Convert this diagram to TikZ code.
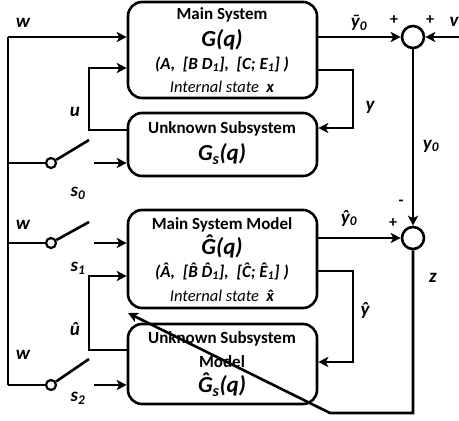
\documentclass[tikz,border=0pt]{standalone}
\usepackage{fontspec}
\setmainfont{Carlito}
\usepackage{tikz}
\usetikzlibrary{arrows.meta,calc,positioning}
\definecolor{cizgi}{HTML}{000000}
\newcommand{\sapka}[2][0.17em]{\ooalign{#2\cr\hidewidth\raisebox{#1}{\char"02C6}\hidewidth\cr}}

\tikzset{
  blok/.style={draw=cizgi,line width=2.6pt,rounded corners=14pt,fill=white},
  toplam/.style={circle,draw=cizgi,line width=2.6pt,minimum size=22pt,inner sep=0pt,fill=white},
  anahtar/.style={circle,draw=cizgi,line width=2.2pt,minimum size=10pt,inner sep=0pt,fill=white},
  tel/.style={line width=2.6pt,cizgi},
  ok/.style={tel,-{Stealth[length=10pt,width=10pt,inset=2.5pt]}},
  baslik/.style={font=\fontsize{17}{17}\selectfont\bfseries},
  tf/.style={font=\fontsize{23}{23}\selectfont\bfseries\itshape},
  param/.style={font=\fontsize{17}{17}\selectfont\bfseries\itshape},
  durum/.style={font=\fontsize{16.5}{16.5}\selectfont\itshape},
  etiket/.style={font=\fontsize{19}{19}\selectfont\bfseries\itshape},
  isaret/.style={font=\fontsize{16}{16}\selectfont\bfseries}
}

\begin{document}
\begin{tikzpicture}[x=1pt,y=-1pt]
\useasboundingbox (0,0) rectangle (459,421);
% blocks
\node[blok,minimum width=189pt,minimum height=96pt] (anaSis) at (222.5,50) {};
\node[blok,minimum width=189pt,minimum height=63pt] (altSis) at (222.5,144.5) {};
\node[blok,minimum width=189pt,minimum height=98pt] (anaMod) at (222.5,259) {};
\node[blok,minimum width=189pt,minimum height=80pt] (altMod) at (222.5,364) {};
% block texts
\node[baslik] (t1) at (222,15) {Main System};
\node[tf] (t2) at (222,40) {G(q)};
\node[param] (t3) at (222,64) {(A,\ \ [B D\textsubscript{1}],\ \ [C; E\textsubscript{1}] )};
\node[durum] (t4) at (222,87) {Internal state\ \ \textbf{x}};
\node[baslik] (t5) at (222,129) {Unknown Subsystem};
\node[tf] (t6) at (222,154) {G\textsubscript{s}(q)};
\node[baslik] (t7) at (222,225) {Main System Model};
\node[tf] (t8) at (222,248) {\sapka{G}(q)};
\node[param] (t9) at (222,272) {(\sapka{A},\ \ [\sapka{B} \sapka{D}\textsubscript{1}],\ \ [\sapka{C}; \sapka{E}\textsubscript{1}] )};
\node[durum] (t10) at (222,296) {Internal state\ \ \textbf{\sapka[0pt]{x}}};
\node[baslik] (t11) at (222,339) {Unknown Subsystem};
\node[baslik] (t12) at (222,362) {Model};
\node[tf] (t13) at (222,386) {\sapka{G}\textsubscript{s}(q)};
% summing junctions and switches
\node[toplam] (topA) at (413,37) {};
\node[toplam] (topB) at (413,238) {};
\node[anahtar] (anA) at (51,163) {};
\node[anahtar] (anB) at (51,243) {};
\node[anahtar] (anC) at (51,385) {};
\coordinate (busUst) at (8,37);
\coordinate (busAlt) at (8,385);
\coordinate (kolA) at (89,140);
\coordinate (kolB) at (89,222);
\coordinate (kolC) at (89,359);
\coordinate (girA) at (94,163);
\coordinate (girB) at (94,243);
\coordinate (girC) at (94,385);
\coordinate (uAlt) at (89,130);
\coordinate (uUst) at (89,68);
\coordinate (uhAlt) at (89,350);
\coordinate (uhUst) at (89,276);
\coordinate (yUst) at (353,70);
\coordinate (yAlt) at (353,128);
\coordinate (yhUst) at (353,271);
\coordinate (yhAlt) at (353,362);
\coordinate (vGir) at (459,37);
\coordinate (zKose) at (413,413);
\coordinate (zKirik) at (330,413);
\coordinate (zUc) at (128,313);
% connectors
\draw[tel] (busAlt) -- (busUst);
\draw[ok] (busUst) -- (busUst -| anaSis.west);
\draw[tel] (anA -| busUst) -- (anA);
\draw[tel] (anB -| busUst) -- (anB);
\draw[tel] (anC -| busUst) -- (anC);
\draw[tel] (anA) -- (kolA);
\draw[tel] (anB) -- (kolB);
\draw[tel] (anC) -- (kolC);
\draw[ok] (girA) -- (girA -| altSis.west);
\draw[ok] (girB) -- (girB -| anaMod.west);
\draw[ok] (girC) -- (girC -| altMod.west);
\draw[ok] (uAlt -| altSis.west) -- (uAlt) -- (uUst) -- (uUst -| anaSis.west);
\draw[ok] (uhAlt -| altMod.west) -- (uhAlt) -- (uhUst) -- (uhUst -| anaMod.west);
\draw[ok] (yUst -| anaSis.east) -- (yUst) -- (yAlt) -- (yAlt -| altSis.east);
\draw[ok] (yhUst -| anaMod.east) -- (yhUst) -- (yhAlt) -- (yhAlt -| altMod.east);
\draw[ok] (topA -| anaSis.east) -- (topA);
\draw[ok] (topB -| anaMod.east) -- (topB);
\draw[ok] (vGir) -- (topA);
\draw[ok] (topA) -- (topB);
\draw[ok] (topB) -- (zKose) -- (zKirik) -- (zUc);
% labels
\node[etiket] (lw1) at (23,23) {w};
\node[etiket] (lw2) at (23,225) {w};
\node[etiket] (lw3) at (23,355) {w};
\node[etiket] (lu) at (75,112) {u};
\node[etiket] (luh) at (75,331) {\sapka[0pt]{u}};
\node[etiket] (ls0) at (78,193) {s\textsubscript{0}};
\node[etiket] (ls1) at (78,268) {s\textsubscript{1}};
\node[etiket] (ls2) at (78,398) {s\textsubscript{2}};
\node[etiket] (lyb) at (359,23) {\={y}\textsubscript{0}};
\node[etiket] (lyh0) at (349,220) {\sapka[0pt]{y}\textsubscript{0}};
\node[etiket] (ly) at (370,107) {y};
\node[etiket] (lyh) at (365,311) {\sapka[0pt]{y}};
\node[etiket] (ly0) at (431,146) {y\textsubscript{0}};
\node[etiket] (lz) at (433,278) {z};
\node[etiket] (lv) at (454,22) {v};
\node[isaret] (p1) at (394,20) {+};
\node[isaret] (p2) at (430,20) {+};
\node[isaret] (m1) at (401,203) {-};
\node[isaret] (p3) at (393,223) {+};
\end{tikzpicture}
\end{document}
